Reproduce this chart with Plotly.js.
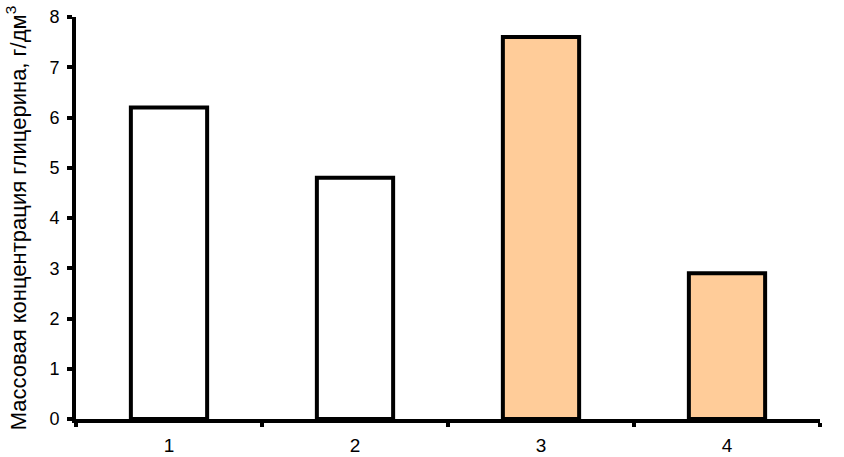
<!DOCTYPE html>
<html>
<head>
<meta charset="utf-8">
<script src="https://cdn.plot.ly/plotly-3.0.1.min.js"></script>
<style>
  html, body { margin: 0; padding: 0; background: #fff; }
  #plot { width: 844px; height: 457px; }
</style>
</head>
<body>
<div id="plot"></div>
<script>
  // Values
  const categories = ['1', '2', '3', '4'];
  const concentration = [6.2, 4.8, 7.6, 2.9];
  const barColors = ['#ffffff', '#ffffff', '#ffcc99', '#ffcc99'];
  const yTicks = [0, 1, 2, 3, 4, 5, 6, 7, 8];

  const trace = {
    x: categories,
    y: concentration,
    type: 'bar',
    width: 0.41,
    marker: {
      color: barColors,
      line: { color: '#000', width: 4 }
    },
    hoverinfo: 'none'
  };

  const layout = {
    width: 844,
    height: 457,
    margin: { l: 76, r: 24, t: 17, b: 38 },
    paper_bgcolor: '#fff',
    plot_bgcolor: '#fff',
    showlegend: false,
    font: { family: 'Liberation Sans, Arial, sans-serif', size: 18, color: '#000' },
    xaxis: {
      type: 'category',
      range: [-0.5, 3.5],
      showline: true,
      linecolor: '#000',
      linewidth: 4,
      showgrid: false,
      zeroline: false,
      ticks: 'outside',
      tickson: 'boundaries',
      ticklen: 4,
      tickwidth: 4,
      tickcolor: '#000',
      ticklabelstandoff: 6,
      tickfont: { size: 19 }
    },
    yaxis: {
      range: [0, 8],
      tickvals: yTicks,
      showline: true,
      linecolor: '#000',
      linewidth: 4,
      showgrid: false,
      zeroline: false,
      ticks: 'outside',
      ticklen: 5,
      tickwidth: 4,
      tickcolor: '#000',
      ticklabelstandoff: 4,
      tickfont: { size: 18 },
      title: {
        text: 'Массовая концентрация глицерина, г/дм<sup>3</sup>',
        font: { size: 22 },
        standoff: 18
      }
    }
  };

  Plotly.newPlot('plot', [trace], layout, { displayModeBar: false, staticPlot: true });
</script>
</body>
</html>
